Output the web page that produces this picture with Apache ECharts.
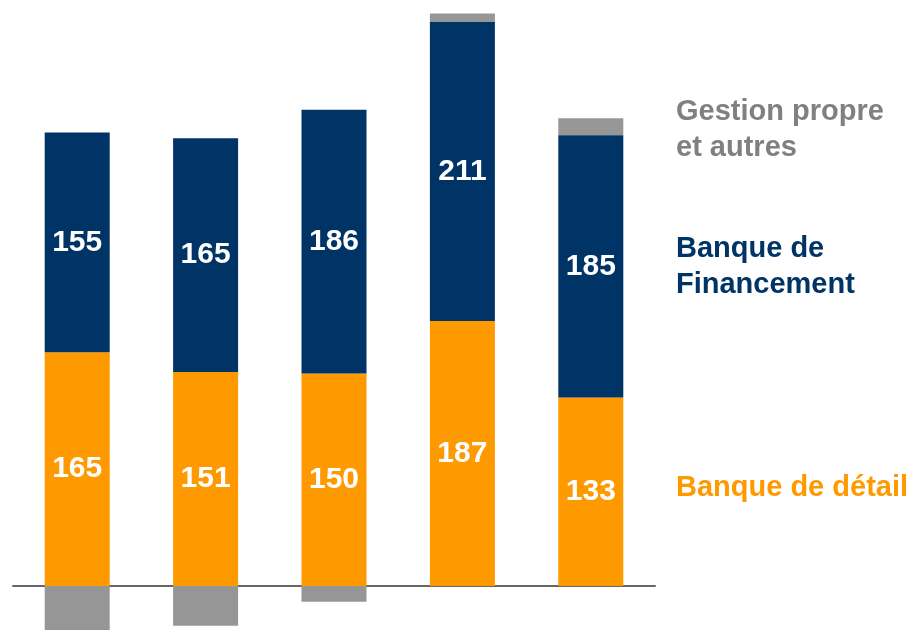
<!DOCTYPE html>
<html>
<head>
<meta charset="utf-8">
<script src="https://cdn.jsdelivr.net/npm/echarts@6/dist/echarts.min.js"></script>
<style>
  html, body { margin: 0; padding: 0; background: #fff; }
  #chart { width: 912px; height: 630px; }
</style>
</head>
<body>
<div id="chart"></div>
<script>
const categories = ['A', 'B', 'C', 'D', 'E']
const detail = [165, 151, 150, 187, 133]
const financement = [155, 165, 186, 211, 185]
const gestion = [-31, -28, -11, 6, 12]

const chart = echarts.init(document.getElementById('chart'))

const labelStyle = {
  show: true,
  position: 'inside',
  color: '#fff',
  fontSize: 30,
  fontWeight: 'bold',
  fontFamily: 'Liberation Sans, Arial, sans-serif',
}

const legendFont = 'bold 29px "Liberation Sans", Arial, sans-serif'

chart.setOption({
  animation: false,
  grid: { left: 13, width: 642, top: 0, height: 630 },
  xAxis: {
    type: 'category',
    data: categories,
    axisLine: { lineStyle: { color: '#666', width: 2 } },
    axisTick: { show: false },
    axisLabel: { show: false },
  },
  yAxis: {
    type: 'value',
    min: -31,
    max: 413.5,
    show: false,
    splitLine: { show: false },
  },
  series: [
    {
      name: 'Banque de détail',
      type: 'bar',
      stack: 'total',
      data: detail,
      barWidth: 65,
      itemStyle: { color: '#FF9900' },
      label: labelStyle,
    },
    {
      name: 'Banque de Financement',
      type: 'bar',
      stack: 'total',
      data: financement,
      barWidth: 65,
      itemStyle: { color: '#003366' },
      label: labelStyle,
    },
    {
      name: 'Gestion propre et autres',
      type: 'bar',
      stack: 'total',
      data: gestion,
      barWidth: 65,
      itemStyle: { color: '#969696' },
      z: 1,
    },
  ],
  graphic: [
    {
      type: 'text', left: 676, top: 94,
      style: { text: 'Gestion propre\net autres', fill: '#808080', font: legendFont, lineHeight: 36 },
    },
    {
      type: 'text', left: 676, top: 231,
      style: { text: 'Banque de\nFinancement', fill: '#003366', font: legendFont, lineHeight: 36 },
    },
    {
      type: 'text', left: 676, top: 473,
      style: { text: 'Banque de détail', fill: '#FF9900', font: legendFont },
    },
  ],
})
</script>
</body>
</html>
